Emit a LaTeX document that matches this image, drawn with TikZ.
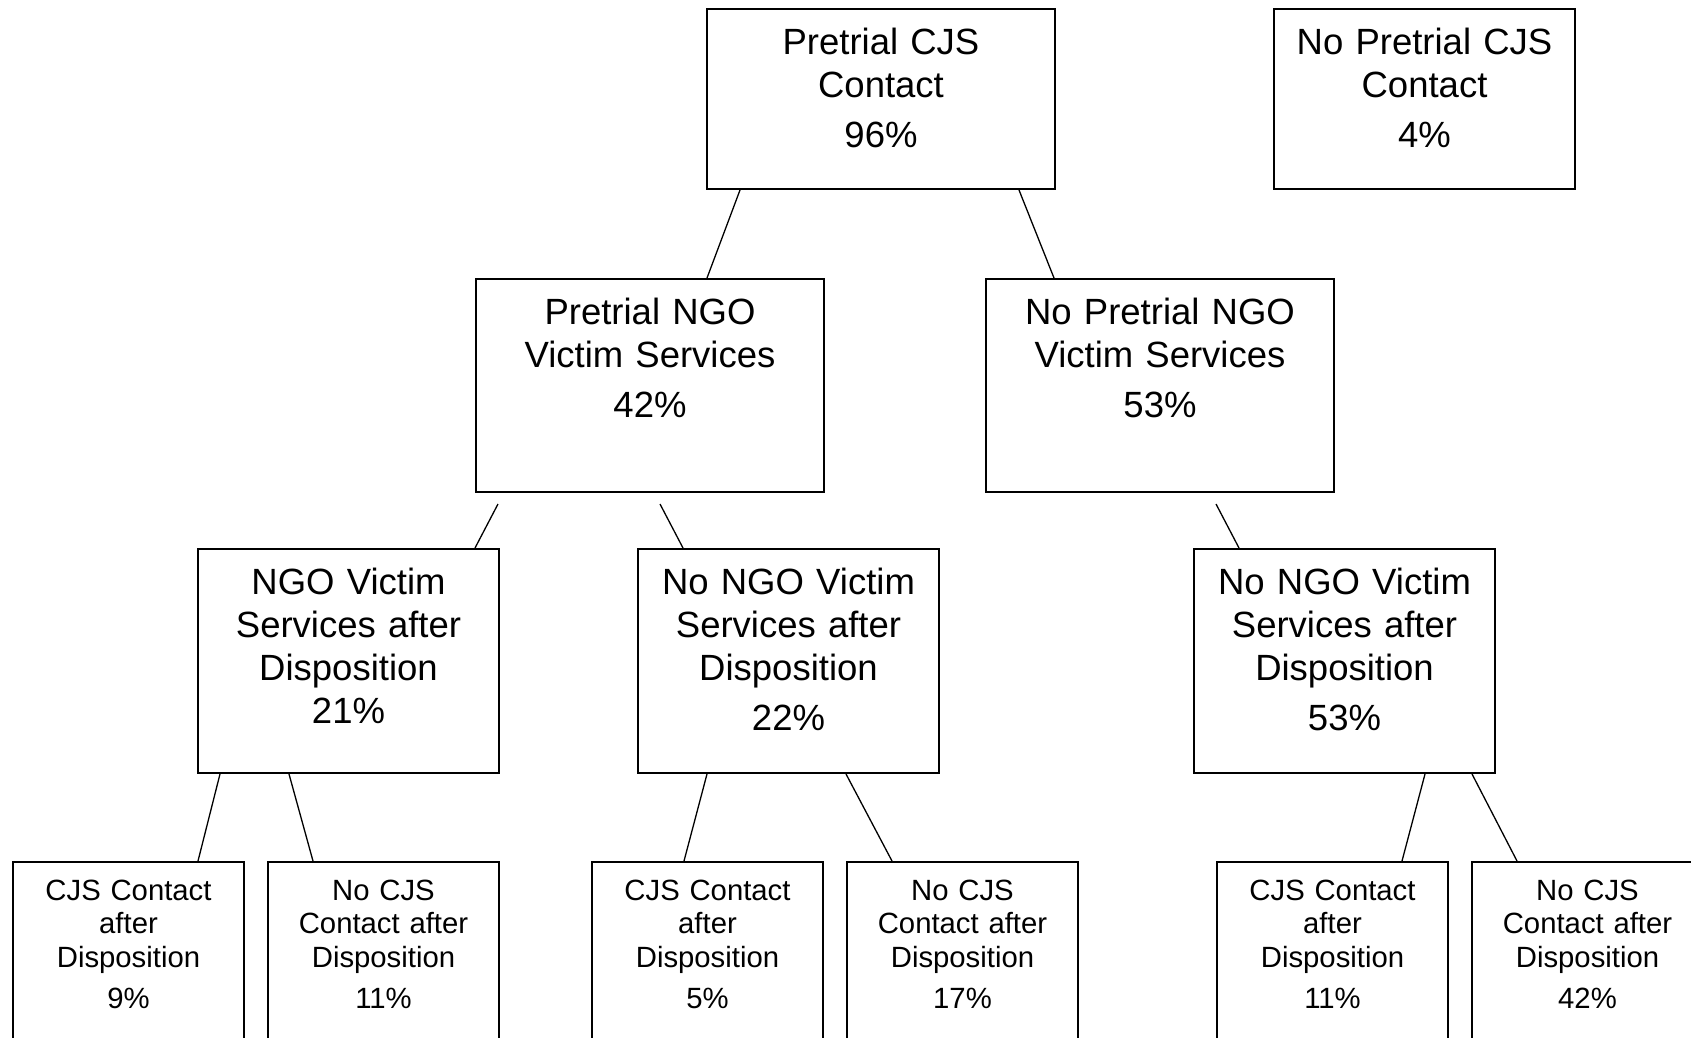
\documentclass[tikz,border=0pt]{standalone}
\usepackage{fontspec}
\setmainfont{Liberation Sans}

\tikzset{
	bigbox/.style={draw, line width=2pt, anchor=north west, inner sep=0pt, align=center, text height=45.5pt, font=\fontsize{36.5}{43}\selectfont},
	smallbox/.style={draw, line width=2pt, anchor=north west, inner sep=0pt, align=center, text width=231pt, text height=38pt, text depth=162pt, font=\fontsize{29.3}{33.5}\selectfont},
	branch/.style={line width=1.3pt}
}

\begin{document}
\begin{tikzpicture}[x=1pt, y=-1pt]
				\useasboundingbox (0,0) rectangle (1691,1037);
				\clip (0,0) rectangle (1691,1037);
				%draw top row
				\node[bigbox, text width=348pt, text depth=134.5pt] (pcjs) at (706,8) {Pretrial CJS\\Contact\\[7pt]96\%};
				\node[bigbox, text width=301pt, text depth=134.5pt] (nopcjs) at (1273,8) {No Pretrial CJS\\Contact\\[7pt]4\%};
				%draw second row
				\node[bigbox, text width=348pt, text depth=167.5pt] (pngo) at (475,278) {Pretrial NGO\\Victim Services\\[7pt]42\%};
				\node[bigbox, text width=348pt, text depth=167.5pt] (nopngo) at (985,278) {No Pretrial NGO\\Victim Services\\[7pt]53\%};
				%draw third row
				\node[bigbox, text width=301pt, text depth=178.5pt] (ngoa) at (197,548) {NGO Victim\\Services after\\Disposition\\21\%};
				\node[bigbox, text width=301pt, text depth=178.5pt] (nongoa) at (637,548) {No NGO Victim\\Services after\\Disposition\\[7pt]22\%};
				\node[bigbox, text width=301pt, text depth=178.5pt] (nongob) at (1193,548) {No NGO Victim\\Services after\\Disposition\\[7pt]53\%};
				%draw bottom row
				\node[smallbox] (cjsa) at (12,861) {CJS Contact\\after\\Disposition\\[7.5pt]9\%};
				\node[smallbox] (nocjsa) at (267,861) {No CJS\\Contact after\\Disposition\\[7.5pt]11\%};
				\node[smallbox] (cjsb) at (591,861) {CJS Contact\\after\\Disposition\\[7.5pt]5\%};
				\node[smallbox] (nocjsb) at (846,861) {No CJS\\Contact after\\Disposition\\[7.5pt]17\%};
				\node[smallbox] (cjsc) at (1216,861) {CJS Contact\\after\\Disposition\\[7.5pt]11\%};
				\node[smallbox] (nocjsc) at (1471,861) {No CJS\\Contact after\\Disposition\\[7.5pt]42\%};
				%draw branches
				\foreach \from/\fx/\fy/\to/\tx in {pcjs/34/0/pngo/232, pcjs/313/0/nopngo/69,
					pngo/23/11/ngoa/278, pngo/185/11/nongoa/46, nopngo/231/11/nongob/46,
					ngoa/23/0/cjsa/186, ngoa/92/0/nocjsa/46, nongoa/70/0/cjsb/93,
					nongoa/209/0/nocjsb/46, nongob/232/0/cjsc/186, nongob/279/0/nocjsc/46}{
					\draw[branch] ([xshift=\fx pt, yshift=-\fy pt]\from.south west) -- ([xshift=\tx pt]\to.north west);
				}
\end{tikzpicture}
\end{document}
